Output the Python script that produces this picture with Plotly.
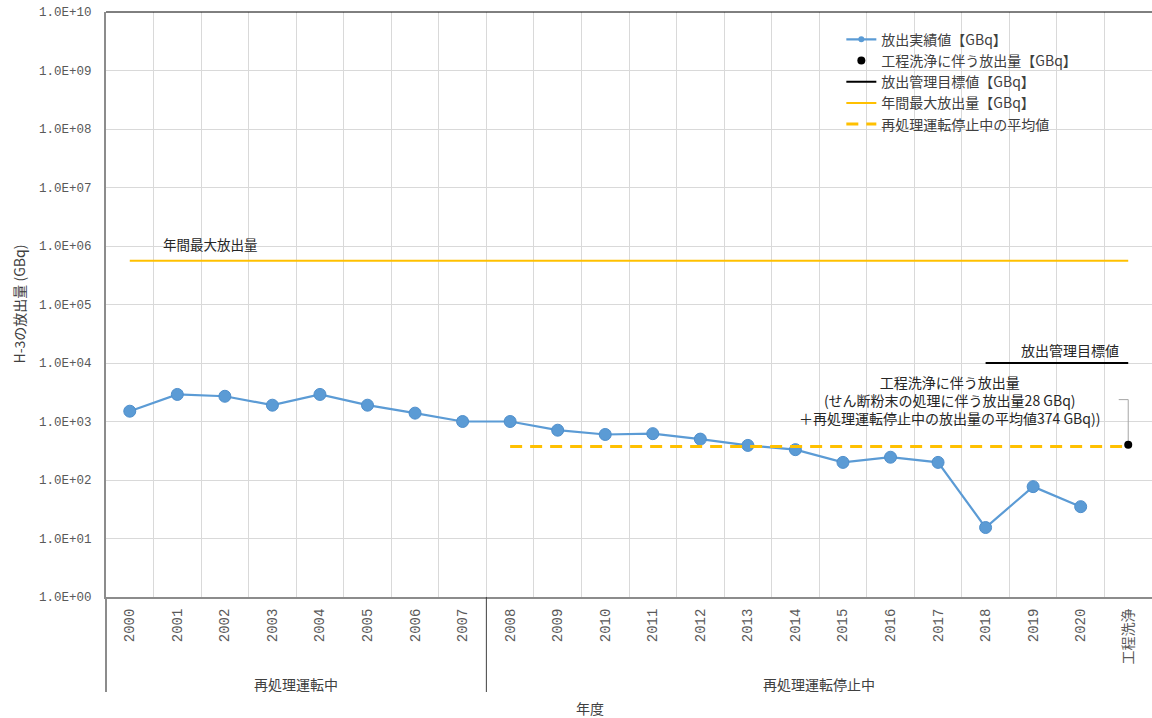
import math
import plotly.graph_objects as go

# ---- data -------------------------------------------------------------
categories = ["2000", "2001", "2002", "2003", "2004", "2005", "2006", "2007",
              "2008", "2009", "2010", "2011", "2012", "2013", "2014", "2015",
              "2016", "2017", "2018", "2019", "2020", "工程洗浄"]
years_released = categories[:21]
release_gbq = [1500, 2900, 2700, 1900, 2900, 1900, 1390, 1000,
               1000, 710, 600, 620, 500, 390, 330, 200,
               245, 200, 15.4, 77, 35]
shear_powder_gbq = 28          # せん断粉末の処理に伴う放出量
shutdown_average_gbq = 374     # 再処理運転停止中の放出量の平均値
washing_gbq = shear_powder_gbq + shutdown_average_gbq
annual_max_gbq = 5.6e5         # 年間最大放出量
target_gbq = 1.0e4             # 放出管理目標値
y_tick_values = [1e0, 1e1, 1e2, 1e3, 1e4, 1e5, 1e6, 1e7, 1e8, 1e9, 1e10]
y_tick_labels = ["1.0E+00", "1.0E+01", "1.0E+02", "1.0E+03", "1.0E+04", "1.0E+05",
                 "1.0E+06", "1.0E+07", "1.0E+08", "1.0E+09", "1.0E+10"]
period_labels = ["再処理運転中", "再処理運転停止中"]

# ---- positions ---------------------------------------------------------
idx = {c: i for i, c in enumerate(categories)}
x_release = [idx[c] for c in years_released]
x_wash = idx["工程洗浄"]
x_stop_start = idx["2008"]
x_target_start = idx["2018"]

JP = "Noto Sans CJK JP"
MONO = "Liberation Mono, Noto Sans CJK JP"
BLUE = "#5B9BD5"
GOLD = "#FFC000"
GRID = "#D9D9D9"

fig = go.Figure()

# measured releases (legend entry drawn by a small-marker proxy)
fig.add_trace(go.Scatter(
    x=x_release, y=release_gbq, mode="lines+markers", name="放出実績値【GBq】",
    legendgroup="release", showlegend=False,
    line=dict(color=BLUE, width=2.2),
    marker=dict(color=BLUE, size=12, line=dict(color="#4F8FCC", width=1)),
))
fig.add_trace(go.Scatter(
    x=[None], y=[None], mode="lines+markers", name="放出実績値【GBq】",
    legendgroup="release", line=dict(color=BLUE, width=2.2),
    marker=dict(color=BLUE, size=6),
))
# leader line from the data label down to the washing point
label_anchor = washing_gbq * 10 ** 0.77
fig.add_trace(go.Scatter(
    x=[x_wash - 0.2, x_wash, x_wash], y=[label_anchor, label_anchor, washing_gbq],
    mode="lines", line=dict(color="#A6A6A6", width=1), showlegend=False, hoverinfo="skip",
))
fig.add_trace(go.Scatter(
    x=[x_wash], y=[washing_gbq], mode="markers", name="工程洗浄に伴う放出量【GBq】",
    marker=dict(color="black", size=8),
))
fig.add_trace(go.Scatter(
    x=[x_target_start, x_wash], y=[target_gbq, target_gbq], mode="lines",
    name="放出管理目標値【GBq】", line=dict(color="black", width=2),
))
fig.add_trace(go.Scatter(
    x=[0, x_wash], y=[annual_max_gbq, annual_max_gbq], mode="lines",
    name="年間最大放出量【GBq】", line=dict(color=GOLD, width=2),
))
fig.add_trace(go.Scatter(
    x=[x_stop_start, x_wash], y=[shutdown_average_gbq, shutdown_average_gbq], mode="lines",
    name="再処理運転停止中の平均値", line=dict(color=GOLD, width=3, dash="12px,8px"),
))

boundaries = [i + 0.5 for i in range(len(categories) - 1)]

fig.update_layout(
    width=1152, height=718,
    margin=dict(l=106, r=0, t=12, b=121),
    paper_bgcolor="white", plot_bgcolor="white",
    font=dict(family=JP, size=13, color="#404040"),
    showlegend=True,
    legend=dict(
        x=0.703, y=0.98, xanchor="left", yanchor="top",
        bgcolor="rgba(255,255,255,0)", font=dict(family=JP, size=14, color="#404040"),
        tracegroupgap=0, itemwidth=30,
    ),
    xaxis=dict(
        range=[-0.5, len(categories) - 0.5],
        tickmode="array", tickvals=list(range(len(categories))), ticktext=categories,
        tickangle=-90, tickfont=dict(family=MONO, size=14, color="#595959"),
        ticks="", showgrid=False, zeroline=False,
        showline=True, linecolor="#8C8C8C", linewidth=2,
        minor=dict(tickmode="array", tickvals=boundaries, showgrid=True,
                   gridcolor=GRID, gridwidth=1, ticks=""),
        ticklabelstandoff=4,
    ),
    yaxis=dict(
        type="log", range=[0, 10],
        tickmode="array", tickvals=y_tick_values, ticktext=y_tick_labels,
        tickfont=dict(family=MONO, size=12.5, color="#595959"),
        ticks="", showgrid=True, gridcolor=GRID, gridwidth=1, zeroline=False,
        showline=True, linecolor="#8C8C8C", linewidth=2,
        ticklabelstandoff=10,
    ),
)

# top frame line, lower extension of the left axis, period divider
plot_h = 718 - 12 - 121
below = -95 / plot_h
fig.add_shape(type="line", xref="paper", yref="paper", x0=0, x1=1, y0=1, y1=1,
              line=dict(color="black", width=1))
fig.add_shape(type="line", xref="paper", yref="paper", x0=0, x1=0, y0=0, y1=below,
              line=dict(color="#8C8C8C", width=2))
fig.add_shape(type="line", xref="x", yref="paper", x0=x_stop_start - 0.5, x1=x_stop_start - 0.5,
              y0=0, y1=below, line=dict(color="#404040", width=1))

# period labels under the year ticks
fig.add_annotation(x=(0 + x_stop_start - 1) / 2, y=-87 / plot_h, xref="x", yref="paper",
                   xanchor="center", yanchor="middle",
                   text=period_labels[0], showarrow=False, font=dict(size=14, color="#404040"))
fig.add_annotation(x=(x_stop_start + x_wash) / 2, y=-87 / plot_h, xref="x", yref="paper",
                   xanchor="center", yanchor="middle",
                   text=period_labels[1], showarrow=False, font=dict(size=14, color="#404040"))
fig.add_annotation(x=(590 - 106) / 1046, y=-111 / plot_h, xref="paper", yref="paper",
                   xanchor="center", yanchor="middle",
                   text="年度", showarrow=False, font=dict(size=14, color="#404040"))
fig.add_annotation(x=-88 / 1046, y=0.5, xref="paper", yref="paper", textangle=-90,
                   xanchor="center", yanchor="middle",
                   text="H-3の放出量 (GBq)", showarrow=False, font=dict(size=14, color="#404040"))

# line labels
fig.add_annotation(x=0.65, y=math.log10(annual_max_gbq), xref="x", yref="y", xanchor="left",
                   yshift=17, text="年間最大放出量", showarrow=False,
                   font=dict(size=13.5, color="#262626"))
fig.add_annotation(x=19.77, y=math.log10(target_gbq), xref="x", yref="y",
                   yshift=13, text="放出管理目標値", showarrow=False,
                   font=dict(size=14, color="#262626"))
fig.add_annotation(x=17.25, y=math.log10(washing_gbq), xref="x", yref="y", yshift=45,
                   text=("工程洗浄に伴う放出量<br>"
                         f"(せん断粉末の処理に伴う放出量{shear_powder_gbq} GBq)<br>"
                         f"＋再処理運転停止中の放出量の平均値{shutdown_average_gbq} GBq))"),
                   showarrow=False, align="center", font=dict(size=14, color="#262626"))

fig.write_html("out.html")
